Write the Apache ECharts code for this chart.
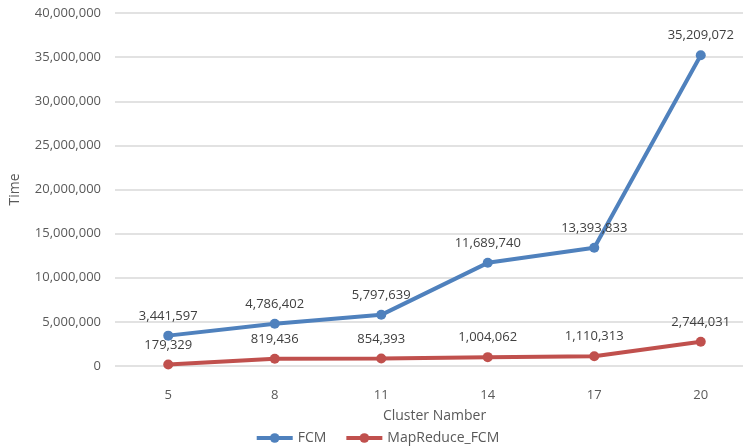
<!DOCTYPE html>
<html>
<head>
<meta charset="utf-8">
<script src="https://cdn.jsdelivr.net/npm/echarts@6/dist/echarts.min.js"></script>
<style>
  html, body { margin: 0; padding: 0; background: #fff; overflow: hidden; }
  /* plot area runs slightly past the right edge of the window */
  #chart { width: 754px; height: 446px; }
</style>
</head>
<body>
<div id="chart"></div>
<script>
// Cluster counts on the x axis
const clusters = ['5', '8', '11', '14', '17', '20'];
// Running time of plain FCM
const fcmTime = [3441597, 4786402, 5797639, 11689740, 13393833, 35209072];
// Running time of the MapReduce version
const mapReduceTime = [179329, 819436, 854393, 1004062, 1110313, 2744031];

const FONT = '"Open Sans", "Noto Sans", sans-serif';
const fmt = v => Number(v).toLocaleString('en-US');

const chart = echarts.init(document.getElementById('chart'));

function lineSeries(name, data, color) {
  return {
    name: name,
    type: 'line',
    data: data,
    symbol: 'circle',
    symbolSize: 10,
    lineStyle: { width: 4, color: color },
    itemStyle: { color: color },
    label: {
      show: true,
      position: 'top',
      distance: 8,
      color: '#404040',
      fontFamily: FONT,
      fontSize: 13,
      formatter: p => fmt(p.value)
    },
    emphasis: { disabled: true },
    animation: false
  };
}

chart.setOption({
  backgroundColor: '#fff',
  grid: { left: 113, top: 13, right: 0, height: 353, containLabel: false },
  xAxis: {
    type: 'category',
    data: clusters,
    boundaryGap: true,
    name: 'Cluster Namber',
    nameLocation: 'middle',
    nameGap: 43,
    nameTextStyle: { color: '#595959', fontFamily: FONT, fontSize: 14 },
    axisLine: { show: false },
    axisTick: { show: false },
    axisLabel: { color: '#595959', fontFamily: FONT, fontSize: 13, margin: 23 }
  },
  yAxis: {
    type: 'value',
    min: 0,
    max: 40000000,
    interval: 5000000,
    name: 'Time',
    nameLocation: 'middle',
    nameGap: 93,
    nameRotate: 90,
    nameTextStyle: { color: '#595959', fontFamily: FONT, fontSize: 14 },
    axisLine: { show: false },
    axisTick: { show: false },
    axisLabel: { color: '#595959', fontFamily: FONT, fontSize: 13, margin: 14, formatter: v => fmt(v) },
    splitLine: { lineStyle: { color: '#d9d9d9', width: 1.5 } }
  },
  legend: {
    top: 426,
    left: 'center',
    itemWidth: 36,
    itemHeight: 12,
    itemGap: 18,
    lineStyle: { width: 4 },
    textStyle: { color: '#595959', fontFamily: FONT, fontSize: 14 },
    data: ['FCM', 'MapReduce_FCM']
  },
  series: [
    lineSeries('FCM', fcmTime, '#4f81bd'),
    lineSeries('MapReduce_FCM', mapReduceTime, '#c0504d')
  ]
});
</script>
</body>
</html>
